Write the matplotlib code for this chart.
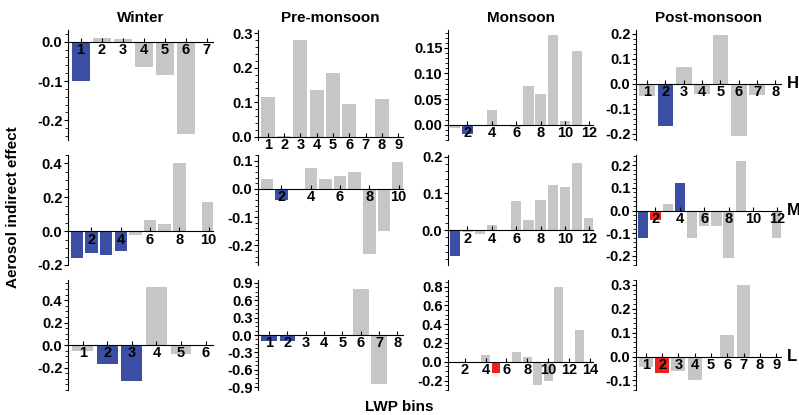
import matplotlib
matplotlib.use("Agg")
import matplotlib.pyplot as plt

plt.rcParams["font.family"] = ["Liberation Sans", "DejaVu Sans"]
plt.rcParams["font.weight"] = "bold"

SEASONS = ["Winter", "Pre-monsoon", "Monsoon", "Post-monsoon"]
LEVELS = ["H", "M", "L"]
GREY, BLUE, RED = "#c6c6c6", "#3a4fa3", "#ee2020"

# values per panel (row, col), bins start at 1
vals_h_winter = [-0.10, 0.01, 0.008, -0.065, -0.085, -0.235]
vals_h_pre = [0.115, 0.003, 0.28, 0.135, 0.185, 0.095, -0.005, 0.108]
vals_h_mon = [-0.007, -0.018, 0.0, 0.028, -0.002, -0.004, 0.075, 0.06, 0.175, 0.008, 0.143]
vals_h_post = [-0.05, -0.17, 0.065, -0.04, 0.195, -0.21, -0.045]
vals_m_winter = [-0.16, -0.13, -0.14, -0.12, -0.02, 0.065, 0.045, 0.40, 0.0, 0.17]
vals_m_pre = [0.035, -0.04, -0.005, 0.075, 0.035, 0.045, 0.06, -0.23, -0.15, 0.095]
vals_m_mon = [-0.07, -0.005, -0.01, 0.015, 0.0, 0.08, 0.028, 0.082, 0.122, 0.117, 0.183, 0.033]
vals_m_post = [-0.12, -0.04, 0.03, 0.12, -0.12, -0.07, -0.07, -0.21, 0.22, 0.0, 0.0, -0.12]
vals_l_winter = [-0.05, -0.17, -0.32, 0.52, -0.08]
vals_l_pre = [-0.1, -0.1, 0.0, -0.02, 0.0, 0.8, -0.85]
vals_l_mon = [0.0, 0.0, 0.0, 0.07, -0.12, 0.0, 0.1, 0.05, -0.25, -0.2, 0.8, 0.0, 0.34]
vals_l_post = [-0.045, -0.07, -0.06, -0.1, 0.0, 0.09, 0.3, 0.0]

# highlighted bins: bin -> colour code
hl = {
    (0, 0): {1: "b"}, (0, 1): {}, (0, 2): {2: "b"}, (0, 3): {2: "b"},
    (1, 0): {1: "b", 2: "b", 3: "b", 4: "b"}, (1, 1): {2: "b"}, (1, 2): {1: "b"},
    (1, 3): {1: "b", 2: "r", 4: "b"},
    (2, 0): {2: "b", 3: "b"}, (2, 1): {1: "b", 2: "b"}, (2, 2): {5: "r"}, (2, 3): {2: "r"},
}
values = {
    (0, 0): vals_h_winter, (0, 1): vals_h_pre, (0, 2): vals_h_mon, (0, 3): vals_h_post,
    (1, 0): vals_m_winter, (1, 1): vals_m_pre, (1, 2): vals_m_mon, (1, 3): vals_m_post,
    (2, 0): vals_l_winter, (2, 1): vals_l_pre, (2, 2): vals_l_mon, (2, 3): vals_l_post,
}
xticks = {
    (0, 0): list(range(1, 8)), (0, 1): list(range(1, 10)), (0, 2): [2, 4, 6, 8, 10, 12], (0, 3): list(range(1, 9)),
    (1, 0): [2, 4, 6, 8, 10], (1, 1): [2, 4, 6, 8, 10], (1, 2): [2, 4, 6, 8, 10, 12], (1, 3): [2, 4, 6, 8, 10, 12],
    (2, 0): list(range(1, 7)), (2, 1): list(range(1, 9)), (2, 2): [2, 4, 6, 8, 10, 12, 14], (2, 3): list(range(1, 10)),
}
yticks = {
    (0, 0): [-0.2, -0.1, 0.0], (0, 1): [0.0, 0.1, 0.2, 0.3], (0, 2): [0.0, 0.05, 0.10, 0.15], (0, 3): [-0.2, -0.1, 0.0, 0.1, 0.2],
    (1, 0): [-0.2, 0.0, 0.2, 0.4], (1, 1): [-0.2, -0.1, 0.0, 0.1], (1, 2): [0.0, 0.1, 0.2], (1, 3): [-0.2, -0.1, 0.0, 0.1, 0.2],
    (2, 0): [-0.2, 0.0, 0.2, 0.4], (2, 1): [-0.9, -0.6, -0.3, 0.0, 0.3, 0.6, 0.9], (2, 2): [-0.2, 0.0, 0.2, 0.4, 0.6, 0.8], (2, 3): [-0.1, 0.0, 0.1, 0.2, 0.3],
}
ylims = {
    (0, 0): (-0.25, 0.03), (0, 1): (-0.01, 0.31), (0, 2): (-0.03, 0.185), (0, 3): (-0.225, 0.215),
    (1, 0): (-0.2, 0.45), (1, 1): (-0.27, 0.12), (1, 2): (-0.095, 0.205), (1, 3): (-0.24, 0.245),
    (2, 0): (-0.4, 0.58), (2, 1): (-0.95, 0.95), (2, 2): (-0.3, 0.87), (2, 3): (-0.14, 0.32),
}
yfmt = {(0, 2): "%.2f", (2, 1): "%.1f"}

fig = plt.figure(figsize=(7.99, 4.15), dpi=100)
lefts = [68, 258, 448, 636]
width = 145
bottoms = [30, 155, 280]
height = 110
for (r, c), v in values.items():
    ax = fig.add_axes([lefts[c] / 799, 1 - (bottoms[r] + height) / 415, width / 799, height / 415])
    x = list(range(1, len(v) + 1))
    cols = [BLUE if hl[(r, c)].get(i) == "b" else RED if hl[(r, c)].get(i) == "r" else GREY for i in x]
    ax.bar(x, v, width=0.85, color=cols, zorder=1)
    ax.set_xlim(0.4, xticks[(r, c)][-1] + 0.3)
    ax.set_ylim(*ylims[(r, c)])
    for s in ["top", "right"]:
        ax.spines[s].set_visible(False)
    ax.spines["bottom"].set_position(("data", 0))
    ax.spines["left"].set_position(("data", 0.4))
    ax.spines["bottom"].set_zorder(3)
    ax.set_xticks(xticks[(r, c)])
    ax.set_yticks(yticks[(r, c)])
    ax.yaxis.set_major_formatter(matplotlib.ticker.FormatStrFormatter(yfmt.get((r, c), "%.1f")))
    ax.tick_params(axis="both", labelsize=10.5, length=3, pad=1)
    ax.tick_params(axis="x", direction="in")
    ax.minorticks_on()
    ax.tick_params(axis="x", which="minor", bottom=False)
    for lab in ax.get_xticklabels() + ax.get_yticklabels():
        lab.set_fontweight("bold")
    if r == 0:
        ax.set_title(SEASONS[c], fontsize=11, fontweight="bold", pad=6)
    if c == 3:
        ax.text(1.04, 0, LEVELS[r], transform=ax.get_yaxis_transform(), fontsize=12,
                va="center", ha="left")

fig.text(0.016, 0.5, "Aerosol indirect effect", rotation=90, va="center", ha="center",
         fontsize=11, fontweight="bold")
fig.text(0.5, 0.003, "LWP bins", ha="center", va="bottom", fontsize=11, fontweight="bold")
fig.savefig("out.png", dpi=100)
